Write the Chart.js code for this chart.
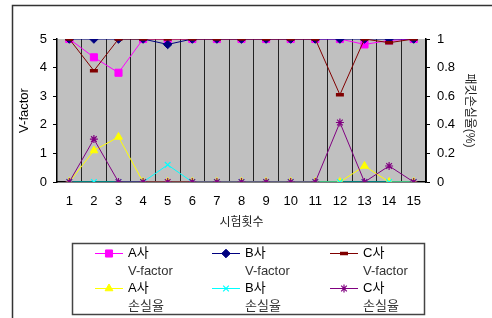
<!DOCTYPE html>
<html>
<head>
<meta charset="utf-8">
<script src="https://cdn.jsdelivr.net/npm/chart.js"></script>
<style>
  html, body { margin: 0; padding: 0; background: #fff; }
  #wrap { width: 492px; height: 318px; position: relative; }
</style>
</head>
<body>
<div id="wrap"><canvas id="chart" width="492" height="318"></canvas></div>
<script>
// 시험횟수
const trials = ['1','2','3','4','5','6','7','8','9','10','11','12','13','14','15'];

// V-factor (left axis)
const aVfactor = [5, 4.36, 3.82, 5, 5, 5, 5, 5, 5, 5, 5, 5, 4.81, 4.95, 5];
const bVfactor = [5, 5, 5, 5, 4.81, 5, 5, 5, 5, 5, 5, 5, 5, 5, 5];
const cVfactor = [5, 3.89, 5, 5, 5, 5, 5, 5, 5, 5, 5, 3.05, 5, 4.87, 5];

// 패킷손실율 % (right axis)
const aLoss = [0, 0.22, 0.315, 0, 0, 0, 0, 0, 0, 0, 0, 0, 0.112, 0, 0];
const bLoss = [0, 0, 0, 0, 0.12, 0, 0, 0, 0, 0, 0, 0, 0, 0, 0];
const cLoss = [0, 0.30, 0, 0, 0, 0, 0, 0, 0, 0, 0, 0.416, 0, 0.112, 0];

const FONT = '"Liberation Sans", Arial, "Noto Sans CJK KR", sans-serif';
const KFONT = '"Liberation Sans", "Noto Sans CJK KR", sans-serif';

const series = [
  { name: 'A사', sub: 'V-factor', data: aVfactor, color: '#FF00FF', style: 'rect', radius: 5, bw: 1, axis: 'y', order: 5 },
  { name: 'B사', sub: 'V-factor', data: bVfactor, color: '#000080', style: 'rectRot', radius: 4.3, bw: 1, axis: 'y', order: 4 },
  { name: 'C사', sub: 'V-factor', data: cVfactor, color: '#800000', style: 'line', radius: 4, bw: 3.5, axis: 'y', order: 3 },
  { name: 'A사', sub: '손실율', data: aLoss, color: '#FFFF00', style: 'triangle', radius: 4.5, bw: 1, axis: 'y1', order: 2 },
  { name: 'B사', sub: '손실율', data: bLoss, color: '#00FFFF', style: 'crossRot', radius: 4, bw: 1.2, axis: 'y1', order: 1 },
  { name: 'C사', sub: '손실율', data: cLoss, color: '#800080', style: 'star', radius: 4, bw: 1.2, axis: 'y1', order: 0 }
];

const frame = {
  id: 'frame',
  beforeDraw(chart) {
    const ctx = chart.ctx, a = chart.chartArea;
    ctx.save();
    ctx.fillStyle = '#fff';
    ctx.fillRect(0, 0, chart.width, chart.height);
    ctx.strokeStyle = '#333';
    ctx.lineWidth = 1.5;
    ctx.strokeRect(12.5, 5.5, 600, 400);
    ctx.fillStyle = '#C0C0C0';
    ctx.fillRect(a.left, a.top, a.right - a.left, a.bottom - a.top);
    ctx.restore();
  }
};

const legendBox = {
  id: 'legendBox',
  afterDraw(chart) {
    const ctx = chart.ctx;
    ctx.save();
    ctx.strokeStyle = '#444';
    ctx.lineWidth = 1.5;
    ctx.strokeRect(72.5, 243.5, 352, 71);
    const cols = [95, 212, 330];
    const rows = [253, 288];
    ctx.font = '13px ' + KFONT;
    ctx.textBaseline = 'middle';
    ctx.textAlign = 'left';
    series.forEach((s, i) => {
      const x = cols[i % 3], y = rows[Math.floor(i / 3)];
      ctx.strokeStyle = s.color;
      ctx.lineWidth = 1;
      ctx.beginPath();
      ctx.moveTo(x, y + 0.5);
      ctx.lineTo(x + 28, y + 0.5);
      ctx.stroke();
      ctx.fillStyle = s.color;
      ctx.strokeStyle = s.color;
      ctx.lineWidth = s.bw;
      Chart.helpers.drawPoint(ctx, {
        pointStyle: s.style, radius: s.radius, borderWidth: s.bw, rotation: 0
      }, x + 14, y + 0.5);
      ctx.fillStyle = '#000';
      ctx.fillText(s.name, x + 33, y);
      ctx.fillStyle = '#333';
      ctx.fillText(s.sub, x + 33, y + 18);
    });
    ctx.restore();
  }
};

new Chart(document.getElementById('chart'), {
  type: 'line',
  data: {
    labels: trials,
    datasets: series.map(s => ({
      label: s.name + ' ' + s.sub,
      data: s.data,
      yAxisID: s.axis,
      order: s.order,
      borderColor: s.color,
      backgroundColor: s.color,
      borderWidth: 1,
      pointStyle: s.style,
      pointRadius: s.radius,
      pointBorderWidth: s.bw,
      pointBorderColor: s.color,
      pointBackgroundColor: s.color,
      tension: 0,
      fill: false
    }))
  },
  options: {
    responsive: false,
    animation: false,
    events: [],
    layout: { padding: { left: 12, top: 39, right: 0, bottom: 86 } },
    plugins: { legend: { display: false }, tooltip: { enabled: false } },
    scales: {
      x: {
        offset: true,
        afterFit: s => { s.height = 50; },
        grid: { offset: true, color: '#222', lineWidth: 1, drawTicks: false },
        border: { color: '#000', width: 1.5 },
        ticks: { color: '#000', padding: 12, font: { family: FONT, size: 13 }, maxRotation: 0, autoSkip: false },
        title: { display: true, text: '시험횟수', color: '#222', font: { family: KFONT, size: 12 }, padding: { top: 4, bottom: 2 } }
      },
      y: {
        position: 'left',
        min: 0, max: 5,
        afterFit: s => { s.width = 45; },
        grid: { drawOnChartArea: false, color: '#000', tickLength: 4 },
        border: { color: '#000', width: 1.5 },
        ticks: { stepSize: 1, color: '#000', padding: 6, font: { family: FONT, size: 13 } },
        title: { display: true, text: 'V-factor', color: '#000', font: { family: FONT, size: 13 }, padding: { top: 5, bottom: 0 } }
      },
      y1: {
        position: 'right',
        min: 0, max: 1,
        afterFit: s => { s.width = 66; },
        grid: { drawOnChartArea: false, color: '#000', tickLength: 4 },
        border: { color: '#000', width: 1.5 },
        ticks: {
          stepSize: 0.2, color: '#000', padding: 7, font: { family: FONT, size: 13 },
          callback: v => String(Math.round(v * 10) / 10)
        },
        title: { display: true, text: '패킷손실율(%)', color: '#222', font: { family: KFONT, size: 12 }, padding: { top: 15, bottom: 0 } }
      }
    }
  },
  plugins: [frame, legendBox]
});
</script>
</body>
</html>
